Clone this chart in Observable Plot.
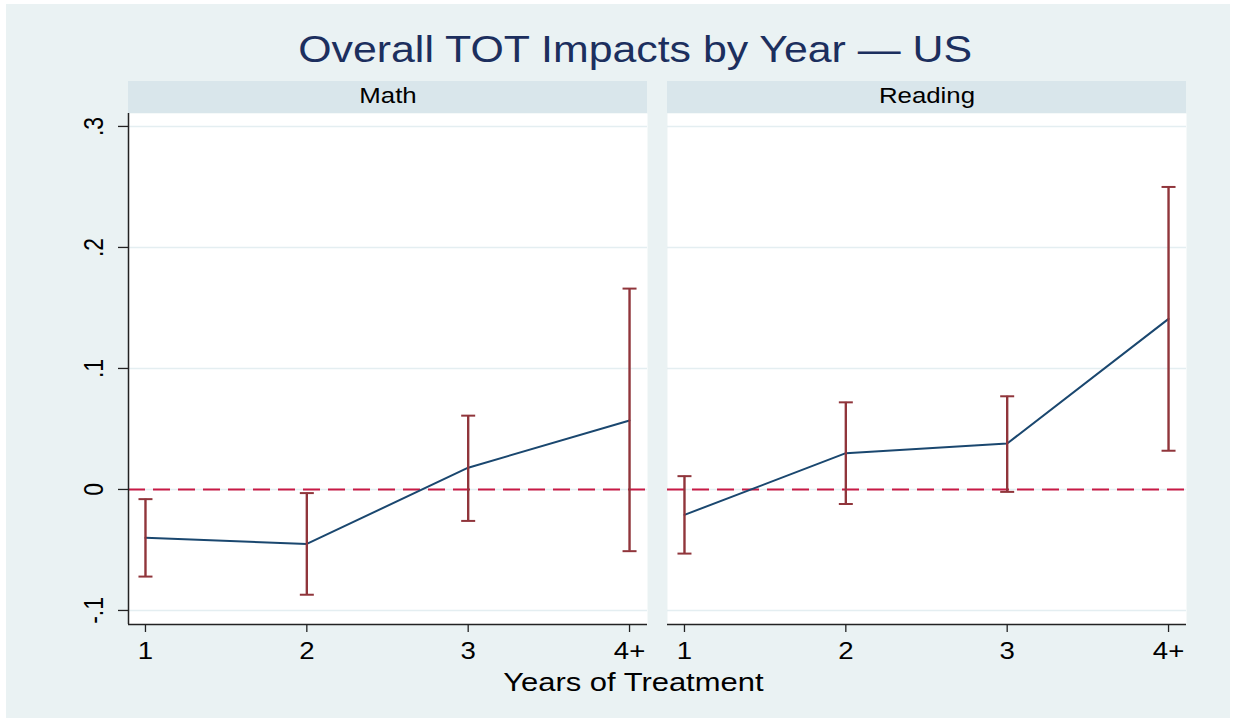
<!DOCTYPE html>
<html>
<head>
<meta charset="utf-8">
<script src="https://cdn.jsdelivr.net/npm/d3@7"></script>
<script src="https://cdn.jsdelivr.net/npm/@observablehq/plot@0.6"></script>
<style>
  html, body { margin: 0; padding: 0; background: #ffffff; }
  #page { position: relative; width: 1233px; height: 719px; overflow: hidden; background: #ffffff;
          font-family: "Liberation Sans", Arial, Helvetica, sans-serif; }
  #bg { position: absolute; left: 6px; top: 4px; width: 1224px; height: 714px; background: #eaf2f3; }
  #title { position: absolute; left: 0; width: 1270px; top: 32px; text-align: center;
           font-size: 36px; line-height: 36px; color: #1c2f5e; white-space: nowrap; }
  #xtitle { position: absolute; left: 0; width: 1266px; top: 669px; text-align: center;
            font-size: 26px; line-height: 26px; color: #000; white-space: nowrap; }
  .stretch { display: inline-block; transform: scaleX(1.19); transform-origin: 50% 50%; }
  #chart { position: absolute; left: 0; top: 70px; }
</style>
</head>
<body>
<div id="page">
  <div id="bg"></div>
  <div id="title"><span class="stretch">Overall TOT Impacts by Year — US</span></div>
  <div id="chart"></div>
  <div id="xtitle"><span class="stretch">Years of Treatment</span></div>
</div>
<script>
// ---------- data ----------
const subjects = ["Math", "Reading"];
const years = [1, 2, 3, 4];
const yearLabels = ["1", "2", "3", "4+"];

const mathEst = [-0.040, -0.045, 0.018, 0.057];
const mathLo  = [-0.072, -0.087, -0.026, -0.051];
const mathHi  = [-0.008, -0.003, 0.061, 0.166];

const readEst = [-0.021, 0.030, 0.038, 0.141];
const readLo  = [-0.053, -0.012, -0.002, 0.032];
const readHi  = [0.011, 0.072, 0.077, 0.250];

const yTicks = [-0.1, 0, 0.1, 0.2, 0.3];
const yTickLabels = ["-.1", "0", ".1", ".2", ".3"];

const X_DOMAIN = [0.8948, 4.1113];
const Y_DOMAIN = [-0.1116, 0.3107];

// ---------- table ----------
const rows = [
  ...years.map((x, i) => ({subject: "Math", x, est: mathEst[i], lo: mathLo[i], hi: mathHi[i]})),
  ...years.map((x, i) => ({subject: "Reading", x, est: readEst[i], lo: readLo[i], hi: readHi[i]}))
];

const NAVY = "#1a476f";
const MAROON = "#90353b";
const RED = "#c81a45";
const STRIP = "#d9e6eb";
const GRID = "#e4eef1";
const AXIS = "#222222";
const S = 1.2; // horizontal glyph stretch of the reference

const capSymbol = {
  draw(context, size) {
    const r = Math.sqrt(size / Math.PI);
    context.moveTo(-r, 0);
    context.lineTo(r, 0);
  }
};

const plot = Plot.plot({
  width: 1233,
  height: 600,
  marginTop: 43,
  marginBottom: 46,
  marginLeft: 127,
  marginRight: 46,
  style: {background: "transparent", fontFamily: "Liberation Sans, Arial, sans-serif", fontSize: "19px", overflow: "visible"},
  fx: {domain: subjects, paddingInner: 0.037, paddingOuter: 0, axis: null, label: null},
  x: {domain: X_DOMAIN, axis: null},
  y: {domain: Y_DOMAIN, axis: null},
  marks: [
    Plot.frame({fill: "white", stroke: "none"}),
    Plot.rect(subjects, {fx: d => d, y1: () => Y_DOMAIN[1], y2: () => Y_DOMAIN[1], insetTop: -32, fill: STRIP}),
    Plot.text(subjects, {fx: d => d, text: d => d, frameAnchor: "top", lineAnchor: "middle", dy: -17.5, fontSize: 21.5, fill: "#000"}),
    Plot.gridY(yTicks, {stroke: GRID, strokeOpacity: 1, strokeWidth: 1.5}),
    Plot.ruleY([0], {stroke: RED, strokeWidth: 2, strokeDasharray: "17,8"}),
    Plot.line(rows, {x: "x", y: "est", fx: "subject", stroke: NAVY, strokeWidth: 2}),
    Plot.ruleX(rows, {x: "x", y1: "lo", y2: "hi", fx: "subject", stroke: MAROON, strokeWidth: 2.4}),
    Plot.dot(rows, {x: "x", y: "lo", fx: "subject", symbol: capSymbol, r: 7, stroke: MAROON, strokeWidth: 2, fill: "none"}),
    Plot.dot(rows, {x: "x", y: "hi", fx: "subject", symbol: capSymbol, r: 7, stroke: MAROON, strokeWidth: 2, fill: "none"}),
    Plot.ruleY([Y_DOMAIN[0]], {stroke: AXIS, strokeWidth: 1.5}),
    Plot.ruleX([subjects[0]], {fx: d => d, x: () => X_DOMAIN[0], stroke: AXIS, strokeWidth: 1.5}),
    Plot.axisY({
      ticks: yTicks,
      tickFormat: d => yTickLabels[yTicks.indexOf(d)],
      tickSize: 10, tickPadding: 16, tickRotate: -90,
      textAnchor: "middle", lineAnchor: "bottom",
      fontSize: 23, label: null, stroke: AXIS, strokeWidth: 1.3, fill: "#000"
    }),
    Plot.axisX({
      ticks: years,
      tickFormat: d => yearLabels[years.indexOf(d)],
      tickSize: 8, tickPadding: 10,
      fontSize: 23, label: null, stroke: AXIS, strokeWidth: 1.3, fill: "#000"
    })
  ]
});

// stretch glyphs horizontally, as in the reference
plot.querySelectorAll("text").forEach(t => {
  const tr = t.getAttribute("transform");
  if (tr && /translate\(/.test(tr)) {
    t.setAttribute("transform", tr.replace(/(translate\([^)]*\))/, `$1 scale(${S},1)`));
  } else {
    const x = parseFloat(t.getAttribute("x") || 0);
    t.removeAttribute("x");
    t.setAttribute("transform", `${tr || ""} translate(${x},0) scale(${S},1)`);
  }
});

document.getElementById("chart").appendChild(plot);
</script>
</body>
</html>
